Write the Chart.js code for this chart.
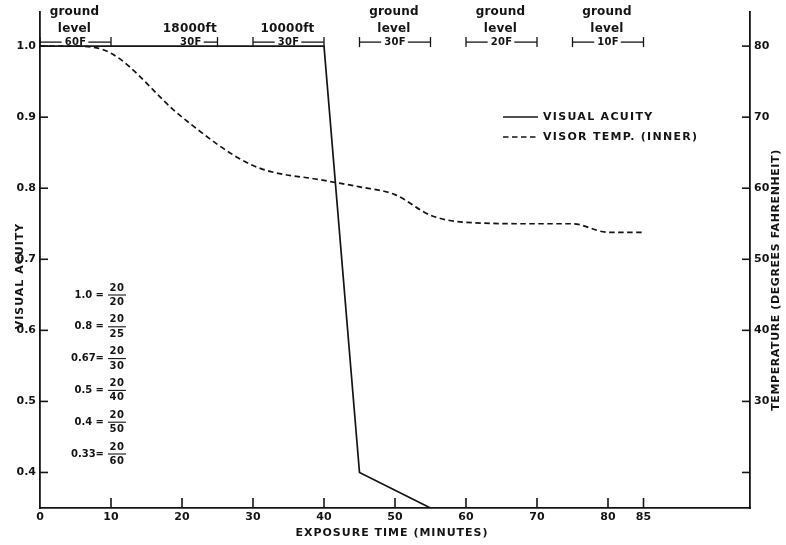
<!DOCTYPE html>
<html><head><meta charset="utf-8">
<script src="https://cdn.jsdelivr.net/npm/chart.js@4.4.1/dist/chart.umd.min.js"></script>
<style>html,body{margin:0;padding:0;background:#fff}#wrap{width:786px;height:545px}</style>
</head><body><div id="wrap"><canvas id="c" width="786" height="545"></canvas></div>
<script>
// ---- data ----
const acuityMinutes = [0, 40, 45, 55];
const visualAcuity = [1.0, 1.0, 0.4, 0.35];
const tempMinutes = [0, 5, 10, 20, 30, 40, 45, 50, 55, 60, 70, 75, 80, 85];
const visorTemp = [80, 80, 79, 70, 63.2, 61.1, 60.2, 59.1, 56.2, 55.2, 55, 55, 53.8, 53.8];

const xTicks = [0, 10, 20, 30, 40, 50, 60, 70, 80, 85];
const acuityTicks = [0.4, 0.5, 0.6, 0.7, 0.8, 0.9, 1.0];
const acuityTickLabels = ['0.4', '0.5', '0.6', '0.7', '0.8', '0.9', '1.0'];
const tempTicks = [20, 30, 40, 50, 60, 70, 80];
const tempTickLabels = ['', '30', '40', '50', '60', '70', '80'];

const phaseLine1 = ['ground', '', '', 'ground', 'ground', 'ground'];
const phaseLine2 = ['level', '18000ft', '10000ft', 'level', 'level', 'level'];
const phaseTemp = ['60F', '30F', '30F', '30F', '20F', '10F'];
const phaseStart = [0, 17.5, 30, 45, 60, 75];
const phaseEnd = [10, 25, 40, 55, 70, 85];
const phaseOpenLeft = [false, true, false, false, false, false];

const acuityEq = ['1.0', '0.8', '0.67', '0.5', '0.4', '0.33'];
const snellenNum = ['20', '20', '20', '20', '20', '20'];
const snellenDen = ['20', '25', '30', '40', '50', '60'];

const seriesNames = ['VISUAL ACUITY', 'VISOR TEMP. (INNER)'];
const xTitle = 'EXPOSURE TIME (MINUTES)';
const yTitle = 'VISUAL ACUITY';
const y2Title = 'TEMPERATURE (DEGREES FAHRENHEIT)';

// ---- style ----
const FAMILY = "'DejaVu Sans', sans-serif";
const INK = '#141414';

function txt(ctx, s, x, y, size, align, spacing, weight) {
  ctx.font = (weight || 'bold') + ' ' + size + 'px ' + FAMILY;
  ctx.letterSpacing = (spacing || 0) + 'px';
  ctx.textAlign = align || 'center';
  ctx.textBaseline = 'middle';
  ctx.fillText(s, x, y);
}
function line(ctx, x1, y1, x2, y2) {
  ctx.beginPath(); ctx.moveTo(x1, y1); ctx.lineTo(x2, y2); ctx.stroke();
}

const decor = {
  id: 'decor',
  afterDraw(chart) {
    const ctx = chart.ctx;
    const xs = chart.scales.x, ys = chart.scales.y, ts = chart.scales.y2;
    const ca = chart.chartArea;
    ctx.save();
    ctx.strokeStyle = INK; ctx.fillStyle = INK; ctx.lineWidth = 1.6; ctx.setLineDash([]);
    // inward tick marks
    xTicks.forEach(v => { if (v === 0) return; const px = xs.getPixelForValue(v); line(ctx, px, ca.bottom, px, ca.bottom - 10); });
    acuityTicks.forEach(v => { const py = ys.getPixelForValue(v); line(ctx, ca.left, py, ca.left + 8, py); });
    tempTicks.forEach(v => { const py = ts.getPixelForValue(v); line(ctx, ca.right, py, ca.right - 8, py); });

    // phase annotations along the top
    const yBase = ys.getPixelForValue(1.0);
    const bY = yBase - 4;
    ctx.lineWidth = 1.3;
    phaseStart.forEach((s, i) => {
      const x1 = xs.getPixelForValue(s), x2 = xs.getPixelForValue(phaseEnd[i]);
      const cx = (x1 + x2) / 2;
      ctx.font = 'bold 10px ' + FAMILY; ctx.letterSpacing = '0.3px';
      const w = ctx.measureText(phaseTemp[i]).width;
      txt(ctx, phaseTemp[i], cx, bY + 0.5, 10, 'center', 0.3);
      if (!phaseOpenLeft[i]) { line(ctx, x1, bY, cx - w / 2 - 3, bY); line(ctx, x1, bY - 5, x1, bY + 5); }
      line(ctx, cx + w / 2 + 2, bY, x2, bY); line(ctx, x2, bY - 5, x2, bY + 5);
      if (phaseLine2[i]) txt(ctx, phaseLine2[i], cx - 1, yBase - 17, 12, 'center', 0.2);
      if (phaseLine1[i]) txt(ctx, phaseLine1[i], cx - 1, yBase - 34, 12, 'center', 0.2);
    });

    // legend
    const lx1 = 503, lx2 = 538;
    [117, 137].forEach((ly, i) => {
      const ds = chart.data.datasets[i];
      ctx.lineWidth = ds.borderWidth; ctx.setLineDash(ds.borderDash || []);
      line(ctx, lx1, ly, lx2, ly);
      ctx.setLineDash([]);
      txt(ctx, seriesNames[i], 543, ly, 11, 'left', 1.3);
    });

    // Snellen equivalents
    ctx.lineWidth = 1.1;
    acuityEq.forEach((a, i) => {
      const yc = 295 + i * 31.8;
      txt(ctx, a + (a.length > 3 ? '=' : ' ='), 104, yc, 10, 'right', 0);
      txt(ctx, snellenNum[i], 117, yc - 7, 10, 'center', 0.5);
      line(ctx, 108, yc, 126, yc);
      txt(ctx, snellenDen[i], 117, yc + 7.5, 10, 'center', 0.5);
    });

    // axis titles
    txt(ctx, xTitle, (ca.left + ca.right) / 2 - 3, 533, 11, 'center', 1);
    ctx.save(); ctx.translate(20, 276); ctx.rotate(-Math.PI / 2);
    txt(ctx, yTitle, 0, 0, 11, 'center', 1); ctx.restore();
    ctx.save(); ctx.translate(776, 280); ctx.rotate(-Math.PI / 2);
    txt(ctx, y2Title, 0, 0, 11, 'center', 0.6); ctx.restore();
    ctx.restore();
  }
};

const tickFont = { family: FAMILY, size: 11, weight: 'bold' };

new Chart(document.getElementById('c').getContext('2d'), {
  type: 'scatter',
  data: {
    datasets: [
      { label: seriesNames[0], data: acuityMinutes.map((m, i) => ({ x: m, y: visualAcuity[i] })),
        showLine: true, borderColor: INK, borderWidth: 1.7, pointRadius: 0, yAxisID: 'y', tension: 0 },
      { label: seriesNames[1], data: tempMinutes.map((m, i) => ({ x: m, y: visorTemp[i] })),
        showLine: true, borderColor: INK, borderWidth: 1.7, borderDash: [5.5, 3.5], pointRadius: 0,
        yAxisID: 'y2', cubicInterpolationMode: 'monotone' }
    ]
  },
  options: {
    responsive: false, animation: false, devicePixelRatio: 1,
    layout: { padding: { top: 12, left: 0, right: 0, bottom: 0 } },
    plugins: { legend: { display: false }, tooltip: { enabled: false } },
    scales: {
      x: {
        type: 'linear', position: 'bottom', min: 0, max: 100,
        grid: { display: false, drawTicks: false },
        border: { display: true, color: INK, width: 1.8 },
        afterBuildTicks: s => { s.ticks = xTicks.map(v => ({ value: v })); },
        afterFit: s => { s.height = 37; },
        ticks: { padding: 3, color: INK, font: tickFont, autoSkip: false, maxRotation: 0,
          callback: v => String(v) }
      },
      y: {
        type: 'linear', position: 'left', min: 0.35, max: 1.048,
        grid: { display: false, drawTicks: false },
        border: { display: true, color: INK, width: 1.8 },
        afterBuildTicks: s => { s.ticks = acuityTicks.map(v => ({ value: v })); },
        afterFit: s => { s.width = 40; },
        ticks: { padding: 4, color: INK, font: tickFont, autoSkip: false,
          callback: v => acuityTickLabels[acuityTicks.findIndex(t => Math.abs(t - v) < 1e-6)] }
      },
      y2: {
        type: 'linear', position: 'right', min: 15, max: 84.8,
        grid: { display: false, drawTicks: false },
        border: { display: true, color: INK, width: 1.8 },
        afterBuildTicks: s => { s.ticks = tempTicks.map(v => ({ value: v })); },
        afterFit: s => { s.width = 36; },
        ticks: { padding: 4, color: INK, font: tickFont, autoSkip: false,
          callback: v => tempTickLabels[tempTicks.indexOf(v)] }
      }
    }
  },
  plugins: [decor]
});
</script>
</body></html>
